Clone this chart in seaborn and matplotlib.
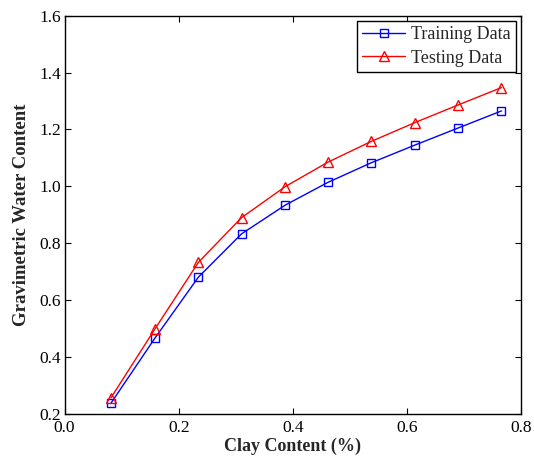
import matplotlib
matplotlib.use("Agg")
import matplotlib.pyplot as plt
import seaborn as sns
import pandas as pd

clay = [0.0812, 0.158, 0.2344, 0.310, 0.3865, 0.4614, 0.5374, 0.6137, 0.6895, 0.7654]
training = [0.238, 0.466, 0.681, 0.833, 0.934, 1.014, 1.083, 1.145, 1.205, 1.265]
testing = [0.257, 0.498, 0.733, 0.890, 0.999, 1.085, 1.158, 1.224, 1.286, 1.347]
series_names = ["Training Data", "Testing Data"]
xticks = [0.0, 0.2, 0.4, 0.6, 0.8]
yticks = [0.2, 0.4, 0.6, 0.8, 1.0, 1.2, 1.4, 1.6]

sns.set_style("ticks")
plt.rcParams['font.family'] = ['Liberation Serif', 'DejaVu Serif']

fig = plt.figure(figsize=(5.34, 4.59), dpi=100)
ax = fig.add_axes([0.121, 0.098, 0.855, 0.868])

df_train = pd.DataFrame({"x": clay, "y": training})
df_test = pd.DataFrame({"x": clay, "y": testing})

sns.lineplot(data=df_train, x="x", y="y", ax=ax, color="#0000ff", marker="s",
             markersize=5.6, markerfacecolor="none", markeredgecolor="#0000ff",
             markeredgewidth=1.0, linewidth=1.0, label=series_names[0])
sns.lineplot(data=df_test, x="x", y="y", ax=ax, color="#ff0000", marker="^",
             markersize=6.8, markerfacecolor="none", markeredgecolor="#ff0000",
             markeredgewidth=1.0, linewidth=1.0, label=series_names[1])

ax.set_xlim(0, 0.8)
ax.set_ylim(0.2, 1.6)
ax.set_xticks(xticks)
ax.set_yticks(yticks)
ax.set_xticklabels([f"{t:.1f}" for t in xticks], fontsize=12.5)
ax.set_yticklabels([f"{t:.1f}" for t in yticks], fontsize=12.5)
ax.tick_params(direction="in", length=4, width=0.8, top=True, right=True,
               colors="black")
ax.tick_params(axis="x", pad=4.5)
ax.tick_params(axis="y", pad=2.5)
for s in ax.spines.values():
    s.set_linewidth(1.0)
    s.set_color("black")

ax.set_xlabel("Clay Content (%)", fontsize=13, fontweight="bold", labelpad=1)
ax.set_ylabel("Gravimetric Water Content", fontsize=13.5, fontweight="bold", labelpad=7)

leg = ax.legend(loc="upper right", fontsize=13, frameon=True, fancybox=False,
                handlelength=2.4, borderaxespad=0.3, borderpad=0.3, labelspacing=0.35,
                handletextpad=0.3)
leg.get_frame().set_edgecolor("black")
leg.get_frame().set_linewidth(1.0)
leg.get_frame().set_alpha(1)

fig.savefig("out.png", dpi=100)
